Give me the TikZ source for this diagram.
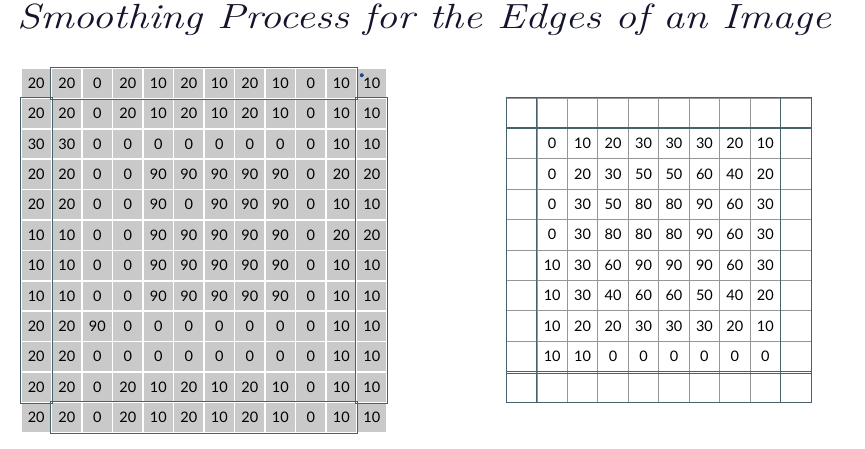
\documentclass[tikz,border=0pt]{standalone}
\usepackage{fontspec}
\newfontfamily\numfont{Lato}
\usetikzlibrary{positioning}
\definecolor{cellgray}{RGB}{201,201,201}
\definecolor{frameslate}{RGB}{72,98,108}
\definecolor{linegray}{RGB}{150,150,150}
\definecolor{dotblue}{RGB}{30,70,150}
\definecolor{inkblue}{RGB}{20,20,45}

\tikzset{
  pixcell/.style={fill=cellgray, draw=white, line width=1.5pt, minimum width=30.5pt, minimum height=30.4pt, inner sep=0pt, font=\numfont\fontsize{14.5}{14.5}\selectfont},
  outcell/.style={draw=linegray, line width=0.8pt, minimum width=30.45pt, minimum height=30.4pt, inner sep=0pt},
  outnum/.style={font=\numfont\fontsize{14.5}{14.5}\selectfont},
  edgebox/.style={draw=frameslate, line width=1.2pt},
  outframe/.style={draw=frameslate, line width=1.1pt}
}

\begin{document}
\begin{tikzpicture}[x=1pt, y=-1pt]
		\useasboundingbox (0,0) rectangle (865,449);
		\pgfmathsetmacro{\cellx}{30.5}
		\pgfmathsetmacro{\celly}{30.4}
		% title
		\node[anchor=base, text=inkblue, xscale=1.2, font=\itshape\fontsize{35}{37}\selectfont] (title) at (424,29) {Smoothing Process for the Edges of an Image};
		% input image
		\foreach \row [count=\r from 0] in {{20,20,0,20,10,20,10,20,10,0,10,10},{20,20,0,20,10,20,10,20,10,0,10,10},{30,30,0,0,0,0,0,0,0,0,10,10},{20,20,0,0,90,90,90,90,90,0,20,20},{20,20,0,0,90,0,90,90,90,0,10,10},{10,10,0,0,90,90,90,90,90,0,20,20},{10,10,0,0,90,90,90,90,90,0,10,10},{10,10,0,0,90,90,90,90,90,0,10,10},{20,20,90,0,0,0,0,0,0,0,10,10},{20,20,0,0,0,0,0,0,0,0,10,10},{20,20,0,20,10,20,10,20,10,0,10,10},{20,20,0,20,10,20,10,20,10,0,10,10}}
			\foreach \v [count=\c from 0] in \row
				\node[pixcell] (in-\r-\c) at ({21+(\c+0.5)*\cellx},{68+(\r+0.5)*\celly}) {\v};
		\draw[edgebox] (in-0-1.north west) rectangle (in-0-10.south east);
		\draw[edgebox] (in-11-1.north west) rectangle (in-11-10.south east);
		\draw[edgebox] (in-1-0.north west) rectangle (in-10-0.south east);
		\draw[edgebox] (in-1-11.north west) rectangle (in-10-11.south east);
		\fill[dotblue] ([xshift=6pt,yshift=-8pt]in-0-11.north west) circle (2pt);
		% smoothed image
		\foreach \r in {0,...,9}
			\foreach \c in {0,...,9}
				\node[outcell] (out-\r-\c) at ({506.5+(\c+0.5)*30.45},{98+(\r+0.5)*\celly}) {};
		\foreach \row [count=\r from 1] in {{0,10,20,30,30,30,20,10},{0,20,30,50,50,60,40,20},{0,30,50,80,80,90,60,30},{0,30,80,80,80,90,60,30},{10,30,60,90,90,90,60,30},{10,30,40,60,60,50,40,20},{10,20,20,30,30,30,20,10},{10,10,0,0,0,0,0,0}}
			\foreach \v [count=\c from 1] in \row
				\node[outnum] (num-\r-\c) at (out-\r-\c) {\v};
		\draw[outframe] (out-0-0.north west) rectangle (out-9-9.south east);
		\draw[outframe] (out-0-1.north west) -- (out-9-1.south west);
		\draw[outframe] (out-0-9.north west) -- (out-9-9.south west);
		\draw[outframe] (out-1-0.north west) -- (out-1-9.north east);
		\draw[outframe] ([yshift=-2pt]out-9-0.north west) -- ([yshift=-2pt]out-9-9.north east);
		\draw[outframe] (out-9-0.north west) -- (out-9-9.north east);
\end{tikzpicture}
\end{document}
